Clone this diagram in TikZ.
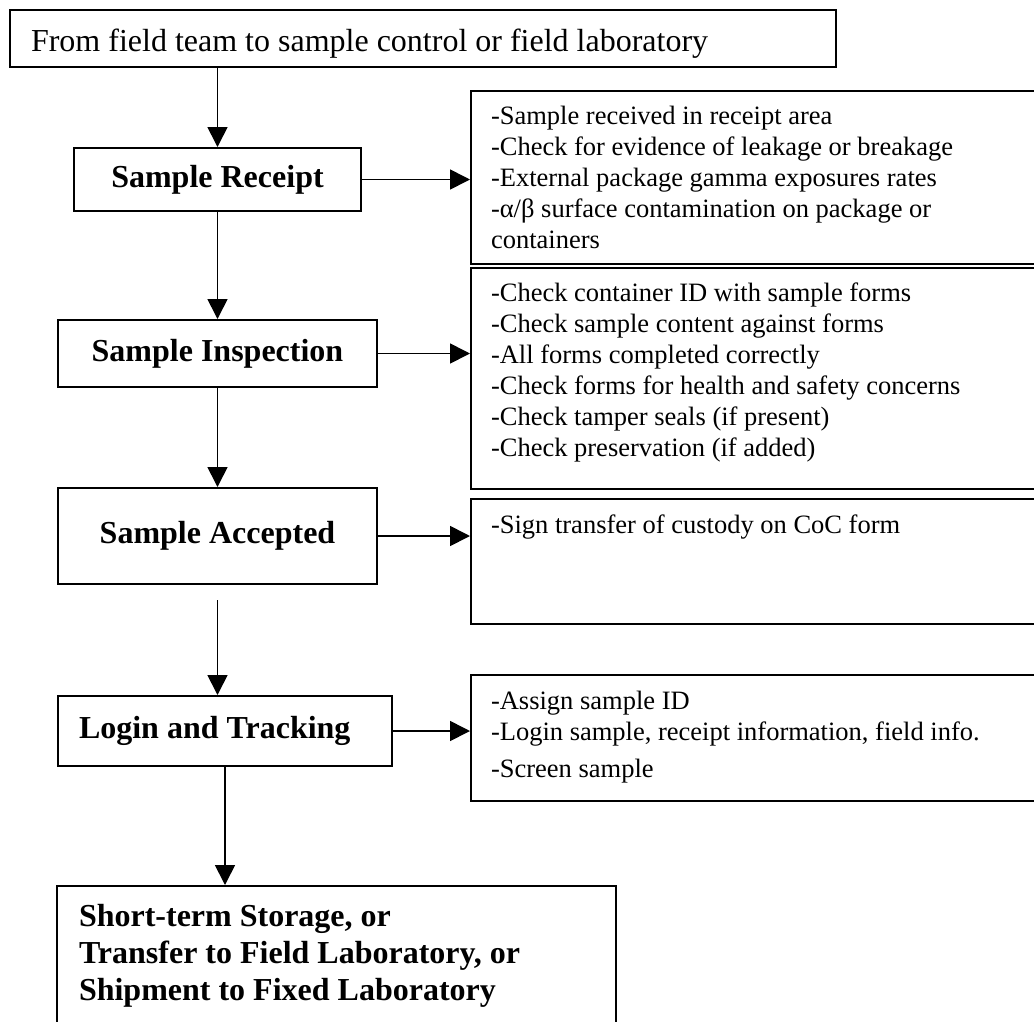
\documentclass[tikz,border=0pt]{standalone}
\usepackage{fontspec}
\setmainfont{Liberation Serif}
\usetikzlibrary{arrows.meta}

\begin{document}
\begin{tikzpicture}[x=1pt,y=-1pt,
    box/.style={draw,line width=2pt,inner sep=0pt},
    stepbox/.style={box,font=\bfseries\fontsize{32}{37}\selectfont},
    listbox/.style={box,anchor=north west,align=flush left,text width=530pt,inner xsep=20pt,inner ysep=0pt,text height=33pt,font=\fontsize{26.5}{31}\selectfont},
    arr/.style={line width=1.7pt,-{Triangle[length=20pt,width=20pt]}}]
    \useasboundingbox (0,0) rectangle (1034,1021);
    \fill[white] (0,0) rectangle (1034,1021);
    \clip (0,0) rectangle (1034,1021);
    % left column
    \node[box,anchor=north west,align=flush left,text width=784pt,inner xsep=21pt,text height=41pt,text depth=16pt,font=\fontsize{32}{37}\selectfont] (field) at (9,9) {From field team to sample control or field laboratory};
    \node[stepbox,minimum width=287pt,minimum height=63pt] (receipt) at (217.5,179.5) {Sample Receipt};
    \node[stepbox,minimum width=319pt,minimum height=67pt] (inspect) at (217.5,353.5) {Sample Inspection};
    \node[stepbox,minimum width=319pt,minimum height=96pt] (accept) at (217.5,536) {Sample Accepted};
    \node[stepbox,align=flush left,text width=292pt,inner xsep=21pt,minimum height=70pt] (login) at (225,731) {Login and Tracking};
    \node[stepbox,anchor=north west,align=flush left,text width=515pt,inner xsep=22pt,text height=40pt,text depth=120pt] (store) at (56,885) {Short-term Storage, or\\Transfer to Field Laboratory, or\\Shipment to Fixed Laboratory};
    % right column
    \node[listbox,text depth=140pt] (checks) at (470,90) {-Sample received in receipt area\\-Check for evidence of leakage or breakage\\-External package gamma exposures rates\\-α/β surface contamination on package or\\containers};
    \node[listbox,text depth=188pt] (forms) at (470,267) {-Check container ID with sample forms\\-Check sample content against forms\\-All forms completed correctly\\-Check forms for health and safety concerns\\-Check tamper seals (if present)\\-Check preservation (if added)};
    \node[listbox,text height=34pt,text depth=91pt] (custody) at (470,498) {-Sign transfer of custody on CoC form};
    \node[listbox,text height=34pt,text depth=92pt] (assign) at (470,674) {-Assign sample ID\\-Login sample, receipt information, field info.\\[6pt]-Screen sample};
    % arrows
    \draw[arr] (receipt.north |- field.south) -- (receipt.north);
    \draw[arr] (receipt.south) -- (inspect.north);
    \draw[arr] (inspect.south) -- (accept.north);
    \draw[arr] ([yshift=-15pt]accept.south) -- (login.north -| accept.south);
    \draw[arr] (login.south) -- (login.south |- store.north);
    \draw[arr] (receipt.east) -- (checks.west |- receipt.east);
    \draw[arr] (inspect.east) -- (forms.west |- inspect.east);
    \draw[arr] (accept.east) -- (custody.west |- accept.east);
    \draw[arr] (login.east) -- (assign.west |- login.east);
\end{tikzpicture}
\end{document}
